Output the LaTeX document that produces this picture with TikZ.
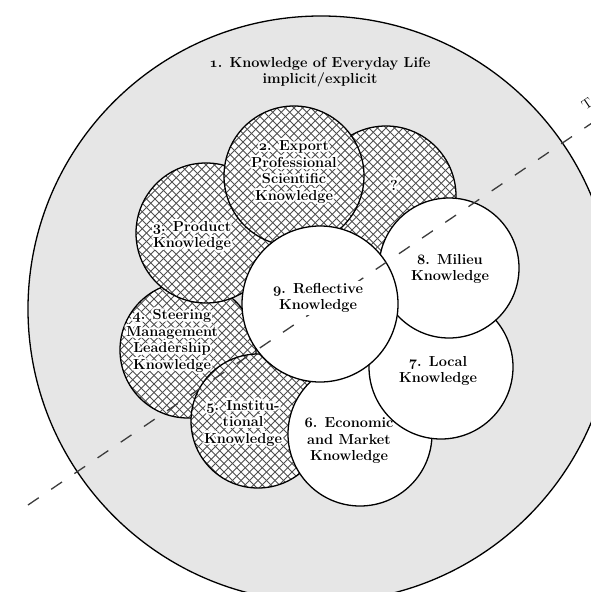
\documentclass[tikz,border=0pt]{standalone}
\definecolor{lifegray}{RGB}{230,230,230}
\definecolor{hatchgray}{RGB}{80,80,80}
\definecolor{dashgray}{RGB}{60,60,60}
\tikzset{
  hatchline/.style={draw=hatchgray, line width=0.95bp},
  disc/.style={circle, draw=black, line width=1.3bp, fill=white,
    minimum size=#1, inner sep=0pt},
  hatched/.style={path picture={
    \foreach \k in {-170,-161.5,...,170} {
      \draw[hatchline] ([xshift=\k bp-110bp, yshift=110bp]path picture bounding box.center) -- ++(220bp,-220bp);
      \draw[hatchline] ([xshift=\k bp-110bp, yshift=-110bp]path picture bounding box.center) -- ++(220bp,220bp);
    }}},
  lbl/.style={align=center, inner sep=0pt,
    font=\fontsize{14.5bp}{16.5bp}\selectfont\bfseries},
  divider/.style={draw=dashgray, line width=1.3bp, dash pattern=on 13bp off 15bp},
}
% label with a white halo so the hatching stays clear of the letters
\newcommand\halolabel[3]{%
  \foreach \r in {1.2,2.2}
    \foreach \a in {0,30,...,330}
      \node[lbl, text=white] at ([shift={(\a:\r bp)}]#2) {#3};
  \node[lbl] (#1) at (#2) {#3};}
% bold old-style figures
\newcommand\osn[1]{{\usefont{OML}{cmm}{b}{it}#1}}
\begin{document}
\begin{tikzpicture}[x=1bp, y=-1bp]
  \useasboundingbox (0,0) rectangle (591,592);

  % everyday life knowledge
  \node[disc=586bp, fill=lifegray] (life) at (321,309) {};

  % hatched domains
  \node[disc=136bp, hatched] (c4) at (188,350) {};
  \node[disc=140bp, hatched] (c3) at (206,233) {};
  \node[disc=140bp, hatched] (cq) at (386,196) {};
  \node[disc=140bp, hatched] (c2) at (294,176) {};
  \node[disc=134bp, hatched] (c5) at (258,421) {};

  % open domains
  \node[disc=144bp] (c6) at (360,434) {};
  \node[disc=144bp] (c7) at (441,367) {};
  \node[disc=140bp] (c8) at (449,268) {};
  \node[disc=156bp] (c9) at (320,304) {};

  % dividing line
  \coordinate (dA) at (28,505);
  \coordinate (dB) at (620,104);
  \draw[divider] (dA) -- (dB);
  \node[font=\fontsize{14bp}{16bp}\selectfont, rotate=34] (tlbl) at (587,104) {T};

  % labels
  \node[lbl] (t1) at (320,72) {\osn{1}. Knowledge of Everyday Life\\implicit/explicit};
  \halolabel{t2}{294,172}{\osn{2}. Export\\Professional\\Scientific\\Knowledge}
  \halolabel{tq}{394,185}{?}
  \halolabel{t3}{192,236}{\osn{3}. Product\\Knowledge}
  \halolabel{t4}{172,341}{\osn{4}. Steering\\Management\\Leadership\\Knowledge}
  \halolabel{t5}{243,423}{\osn{5}. Institu-\\tional\\Knowledge}
  \node[lbl] (t6) at (349,441) {\osn{6}. Economic\\and Market\\Knowledge};
  \node[lbl] (t7) at (438,371) {\osn{7}. Local\\Knowledge};
  \node[lbl] (t8) at (450,269) {\osn{8}. Milieu\\Knowledge};
  \node[lbl, fill=white, inner sep=2bp] (t9) at (318,298) {\osn{9}. Reflective\\Knowledge};
\end{tikzpicture}
\end{document}
